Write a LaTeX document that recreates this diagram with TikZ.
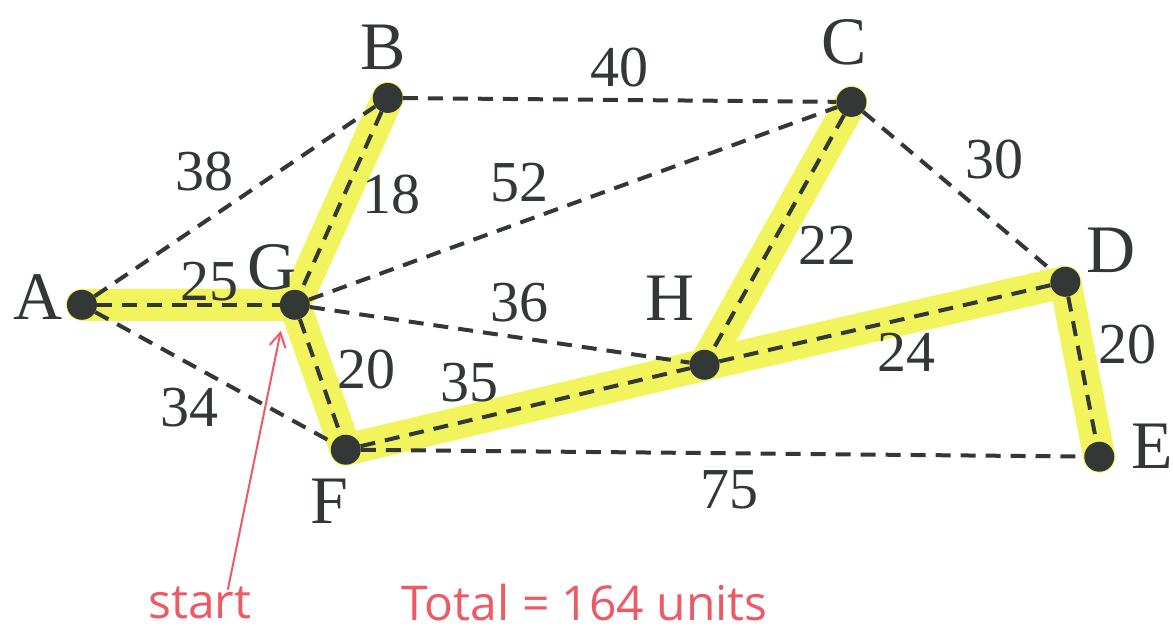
\documentclass[tikz,border=0pt]{standalone}
\usepackage{fontspec}
\setmainfont{Liberation Serif}
\newfontfamily\hand{Open Sans}
\usetikzlibrary{arrows.meta}
\pgfdeclarelayer{bg}
\pgfsetlayers{bg,main}
\definecolor{ink}{HTML}{333836}
\definecolor{hl}{HTML}{F1F45C}
\definecolor{pen}{HTML}{EC5A66}
\tikzset{
  vtx/.style={circle,fill=ink,minimum size=30pt,inner sep=0pt},
  vlab/.style={font=\fontsize{68}{70}\selectfont,text=ink,inner sep=0pt},
  wlab/.style={font=\fontsize{58}{60}\selectfont,text=ink,inner sep=0pt},
  edge/.style={draw=ink,line width=4pt,dash pattern=on 15pt off 10pt},
  hilite/.style={draw=hl,line width=32pt,line cap=round,line join=round},
  note/.style={font=\hand\fontsize{48}{52}\selectfont,text=pen,inner sep=0pt},
}
\begin{document}
\begin{tikzpicture}[x=1pt,y=-1pt]
% vertices
\node[vtx] (A) at (82,305) {};
\node[vtx] (B) at (388,98) {};
\node[vtx] (C) at (852,102) {};
\node[vtx] (D) at (1066,282) {};
\node[vtx] (E) at (1100,457) {};
\node[vtx] (F) at (346,450) {};
\node[vtx] (G) at (295,305) {};
\node[vtx] (H) at (705,365) {};
% background and highlighted tree
\begin{pgfonlayer}{bg}
\path[use as bounding box,fill=white] (0,0) rectangle (1173,638);
\draw[hilite] (A.center) -- (G.center) -- (B.center);
\draw[hilite] (G.center) -- (F.center) -- (H.center) -- (C.center);
\draw[hilite] (H.center) -- (D.center) -- (E.center);
\end{pgfonlayer}
% dashed edges
\draw[edge] (A) -- (B);
\draw[edge] (A) -- (G);
\draw[edge] (A) -- (F);
\draw[edge] (B) -- (C);
\draw[edge] (B) -- (G);
\draw[edge] (G) -- (C);
\draw[edge] (G) -- (H);
\draw[edge] (G) -- (F);
\draw[edge] (C) -- (H);
\draw[edge] (C) -- (D);
\draw[edge] (H) -- (D);
\draw[edge] (D) -- (E);
\draw[edge] (F) -- (H);
\draw[edge] (F) -- (E);
% vertex labels
\node[vlab] (lA) at (38,297) {A};
\node[vlab] (lB) at (383,47) {B};
\node[vlab] (lC) at (845,42) {C};
\node[vlab] (lD) at (1112,250) {D};
\node[vlab] (lE) at (1153,447) {E};
\node[vlab] (lF) at (330,502) {F};
\node[vlab] (lG) at (272,268) {G};
\node[vlab] (lH) at (670,298) {H};
% weights
\node[wlab] (wBC) at (620,68) {40};
\node[wlab] (wAB) at (205,172) {38};
\node[wlab] (wBG) at (392,195) {18};
\node[wlab] (wGC) at (520,183) {52};
\node[wlab] (wCD) at (995,160) {30};
\node[wlab] (wCH) at (828,245) {22};
\node[wlab] (wAG) at (210,282) {25};
\node[wlab] (wGH) at (520,303) {36};
\node[wlab] (wHD) at (907,353) {24};
\node[wlab] (wDE) at (1128,345) {20};
\node[wlab] (wGF) at (367,370) {20};
\node[wlab] (wFH) at (470,383) {35};
\node[wlab] (wAF) at (190,408) {34};
\node[wlab] (wFE) at (730,490) {75};
% annotations
\node[note] (start) at (200,603) {start};
\node[note] (total) at (585,603) {Total = 164 units};
\coordinate (tip) at (281,331);
\draw[pen,line width=2pt,-{Straight Barb[length=14pt,width=16pt]}] (228,590) -- (tip);
\end{tikzpicture}
\end{document}
